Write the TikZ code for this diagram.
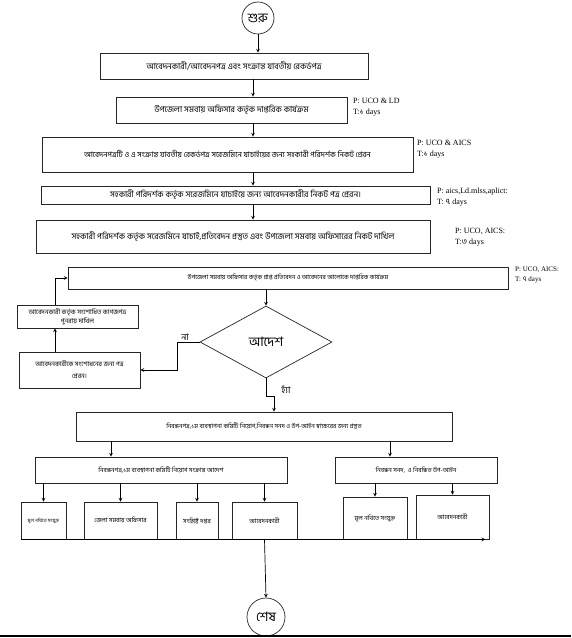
\documentclass[tikz,border=0pt]{standalone}
\usepackage{fontspec}
\setmainfont{Liberation Serif}
\newfontfamily\bn[Script=Bengali]{Hind Siliguri}
\usetikzlibrary{arrows,shapes.geometric,positioning}

\begin{document}
\begin{tikzpicture}[x=1pt, y=-1pt,
	box/.style={draw=black!85, line width=0.7pt, inner sep=1pt, align=center,
		font=\bn\fontsize{8.4}{10}\selectfont},
	smallbox/.style={box, font=\bn\fontsize{6.2}{8}\selectfont},
	term/.style={draw=black!85, circle, line width=0.7pt, inner sep=0pt,
		font=\bn\fontsize{13}{13}\selectfont},
	note/.style={anchor=north west, align=left, inner sep=0pt, font=\fontsize{8}{11}\selectfont},
	arr/.style={-stealth, line width=0.7pt}
]
	\useasboundingbox (0,0) rectangle (571,638);
	\node[term, minimum size=32pt] (start) at (258, 18) {শুরু};
	\node[box, minimum width=268pt, minimum height=26pt] (box1) at (234, 66)
		{আবেদনকারী/আবেদনপত্র এবং সংক্রান্ত যাবতীয় রেকর্ডপত্র};
	\node[box, minimum width=231pt, minimum height=26pt] (box2) at (231.5, 110)
		{উপজেলা সমবায় অফিসার কর্তৃক দাপ্তরিক কার্যক্রম};
	\node[box, minimum width=371pt, minimum height=35pt, font=\bn\fontsize{7.7}{10}\selectfont] (box3) at (227.5, 154.5)
		{আবেদনপত্রটি ও এ সংক্রান্ত যাবতীয় রেকর্ডপত্র সরেজমিনে যাচাইয়ের জন্য সহকারী পরিদর্শক নিকট প্রেরন};
	\node[box, minimum width=389pt, minimum height=18pt] (box4) at (235.5, 195)
		{সহকারী পরিদর্শক কর্তৃক সরেজমিনে যাচাইয়ে জন্য আবেদনকারীর নিকট পত্র প্রেরন।};
	\node[box, minimum width=394pt, minimum height=33pt] (box5) at (233, 236.5)
		{সহকারী পরিদর্শক কর্তৃক সরেজমিনে যাচাই,প্রতিবেদন প্রস্তুত এবং উপজেলা সমবায় অফিসারের নিকট দাখিল};
	\node[smallbox, minimum width=440pt, minimum height=22pt] (box6) at (288, 278)
		{উপজেলা সমবায় অফিসার কর্তৃক প্রাপ্ত প্রতিবেদন ও আবেদনের আলোকে দাপ্তরিক কার্যক্রম};
	\node[draw=black!85, diamond, line width=0.7pt, aspect=1.8, inner sep=0pt,
		minimum width=132pt, minimum height=72pt, font=\bn\fontsize{13}{13}\selectfont] (dec) at (266, 342) {আদেশ};
	\node[smallbox, minimum width=121pt, minimum height=23pt, font=\bn\fontsize{6.5}{9}\selectfont] (box8) at (77.5, 316.5)
		{আবেদনকারী কর্তৃক সংশোধিত কাগজপত্র\\পুনরায় দাখিল};
	\node[smallbox, minimum width=121pt, minimum height=36pt, font=\bn\fontsize{6.5}{12}\selectfont] (box7) at (79.5, 370)
		{আবেদনকারীকে সংশোধনের জন্য পত্র\\প্রেরন।};
	\node[font=\bn\fontsize{9}{9}\selectfont] (no) at (185, 337) {না};
	\node[font=\bn\fontsize{9}{9}\selectfont] (yes) at (286, 390) {হ্যাঁ};
	\node[smallbox, minimum width=376pt, minimum height=29pt] (box9) at (264, 426.5)
		{নিবন্ধনপত্র,১ম ব্যবস্থাপনা কমিটি নিয়োগ,নিবন্ধন সনদ ও উপ-আইন স্বাক্ষরের জন্য প্রস্তুত};
	\node[smallbox, minimum width=252pt, minimum height=26pt] (box10) at (161, 470)
		{নিবন্ধনপত্র,১ম ব্যবস্থাপনা কমিটি নিয়োগ সংক্রান্ত আদেশ};
	\node[smallbox, minimum width=162pt, minimum height=26pt] (box11) at (416, 470)
		{নিবন্ধন সনদ,\ \ ও নিবন্ধিত উপ-আইন};
	\node[smallbox, minimum width=45pt, minimum height=37pt, font=\bn\fontsize{4.8}{6}\selectfont] (leaf1) at (43.5, 520.5) {মূল নথিতে সংযুক্ত};
	\node[smallbox, minimum width=73pt, minimum height=37pt] (leaf2) at (120.5, 520.5) {জেলা সমবায় অফিসার};
	\node[smallbox, minimum width=42pt, minimum height=37pt] (leaf3) at (197, 520.5) {সংশ্লিষ্ট দপ্তর};
	\node[smallbox, minimum width=65pt, minimum height=37pt] (leaf4) at (264.5, 520.5) {আবেদনকারী};
	\node[smallbox, minimum width=64pt, minimum height=42pt] (leaf5) at (375, 518) {মূল নথিতে সংযুক্ত};
	\node[smallbox, minimum width=73pt, minimum height=44pt] (leaf6) at (452.5, 517) {আবেদনকারী};
	\node[term, minimum size=38pt] (end) at (266, 617) {শেষ};

	\node[note] (t2) at (353, 98) {P: UCO \& LD\\T:{\bn ১} days};
	\node[note] (t3) at (417, 140) {P: UCO \& AICS\\T:{\bn ১} days};
	\node[note] (t4) at (437, 188) {P: aics,Ld.mlss,aplict:\\T: {\bn ৭} days};
	\node[note] (t5) at (455, 228) {P: UCO, AICS:\\T:{\bn ৩} days};
	\node[note, font=\fontsize{7}{10}\selectfont] (t6) at (515, 267) {P: UCO, AICS:\\T: {\bn ৭} days};

	\coordinate (spine) at (253, 0);
	\coordinate (loop) at (55, 0);
	\coordinate (yesx) at (274, 0);
	\draw[arr] (start.south) -- (start.south |- box1.north);
	\draw[arr] (box1.south -| spine) -- (box2.north -| spine);
	\draw[arr] (box2.south -| spine) -- (box3.north -| spine);
	\draw[arr] (box3.south -| spine) -- (box4.north -| spine);
	\draw[arr] (box4.south -| spine) -- (box5.north -| spine);
	\draw[arr] (box6.south -| dec) -- (dec.north);
	\draw[arr] (dec.west) -- ++(-22, 0) |- (box7.east);
	\draw[arr] (box7.north -| loop) -- (box8.south -| loop);
	\draw[arr] (box8.north -| loop) |- (box6.west);
	\draw[arr] (dec.south) -- ++(0, 18) -| (box9.north -| yesx);
	\draw[arr] (box9.south -| 111,0) -- (box10.north -| 111,0);
	\draw[arr] (box9.south -| 390,0) -- (box11.north -| 390,0);
	\foreach \leaf in {leaf1, leaf2, leaf3, leaf4}
		\draw[arr] (box10.south -| \leaf) -- (\leaf.north);
	\foreach \leaf in {leaf5, leaf6}
		\draw[arr] (box11.south -| \leaf) -- (\leaf.north);
	\draw[arr] (leaf1.south west) -- ([xshift=-4pt]leaf6.south east);
	\draw[arr] (leaf4.south) -- (end.north);
	\draw[line width=1.2pt] (0, 636) -- (571, 636);
\end{tikzpicture}
\end{document}
